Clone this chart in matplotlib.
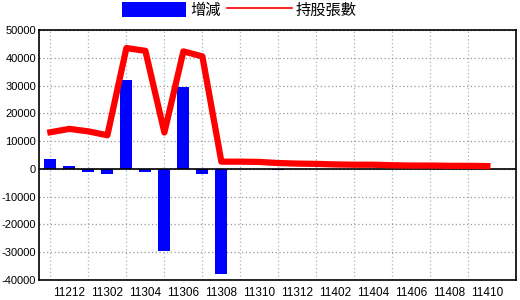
import matplotlib
matplotlib.use("Agg")
import matplotlib.pyplot as plt
from matplotlib.lines import Line2D

months = ["11211", "11212", "11301", "11302", "11303", "11304", "11305", "11306",
          "11307", "11308", "11309", "11310", "11311", "11312", "11401", "11402",
          "11403", "11404", "11405", "11406", "11407", "11408", "11409", "11410"]
change = [3400, 900, -1000, -1700, 32000, -1300, -29400, 29300,
          -1700, -38000, 100, -100, -500, -200, -100, -200,
          -100, -100, -200, -100, -100, -100, -100, -100]
holdings = [13200, 14400, 13500, 12100, 43500, 42500, 13100, 42300,
            40500, 2600, 2600, 2500, 2100, 1900, 1800, 1600,
            1500, 1500, 1300, 1200, 1200, 1100, 1100, 1000]

plt.rcParams["font.family"] = ["Noto Sans CJK TC", "DejaVu Sans"]
plt.rcParams["axes.unicode_minus"] = False

fig = plt.figure(figsize=(5.2, 3.0), dpi=100)
ax = fig.add_axes([0.075, 0.0667, 0.917, 0.8333])

x = list(range(len(months)))
bars = ax.bar(x, change, width=0.63, color="#0000ff", zorder=3)
ax.plot(x, holdings, color="#ff0000", linewidth=4.5, zorder=4)
ax.axhline(0, color="black", linewidth=1.2, zorder=3)

ax.set_xlim(-0.6, 24.5)
ax.set_ylim(-40000, 50000)
ax.set_yticks(range(-40000, 50001, 10000))
ax.set_xticks(x[1::2])
ax.set_xticklabels(months[1::2])
ax.set_xticks(x[0::2], minor=True)
ax.tick_params(axis="both", which="both", length=0, labelsize=8)
ax.tick_params(axis="y", pad=2)
ax.tick_params(axis="x", pad=5, labelsize=8.5)
for lab in ax.get_xticklabels() + ax.get_yticklabels():
    lab.set_fontfamily("Liberation Sans")

ax.grid(axis="y", which="major", color="#999999", linestyle=(0, (1, 2)), linewidth=0.9)
ax.grid(axis="x", which="minor", color="#9fb8c8", linestyle=(0, (1, 2)), linewidth=0.9)
for s in ax.spines.values():
    s.set_color("black")
    s.set_linewidth(1.2)

legend_line = Line2D([], [], color="#ff0000", linewidth=1.2)
fig.legend(handles=[bars, legend_line], labels=["增減", "持股張數"], loc="upper left",
           bbox_to_anchor=(0.2346, 0.995), ncol=2, frameon=False, fontsize=11,
           borderpad=0, borderaxespad=0,
           handlelength=4.2, handleheight=1.2, handletextpad=0.25, columnspacing=0.45)

fig.savefig("out.png", dpi=100)
